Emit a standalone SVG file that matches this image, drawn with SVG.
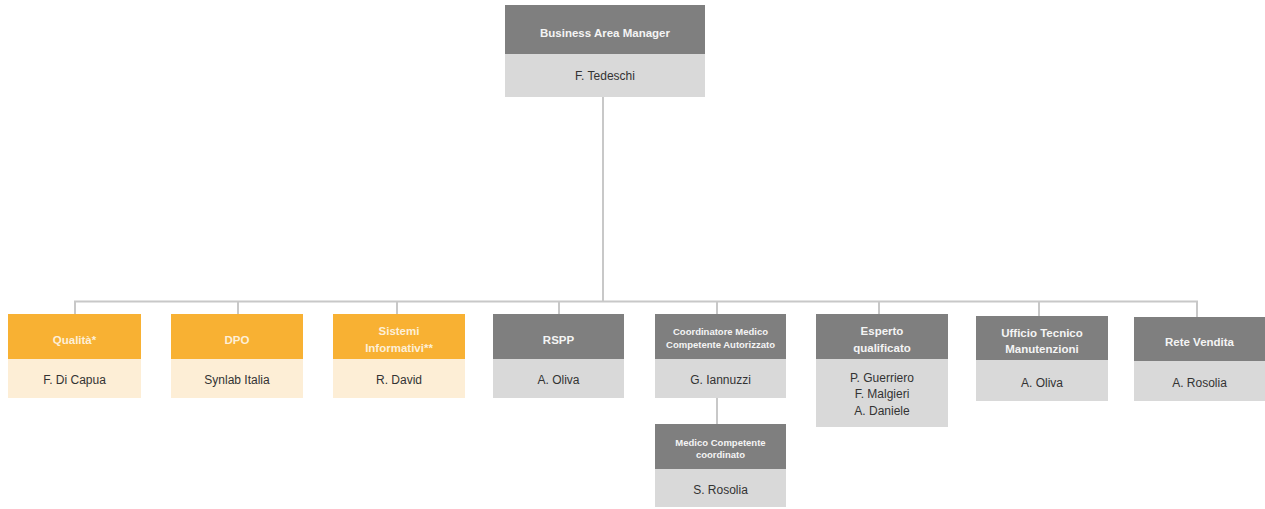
<svg xmlns="http://www.w3.org/2000/svg" width="1265" height="509" viewBox="0 0 1265 509">
  <style>
    .hd-o { fill: #F8B133; }
    .bd-o { fill: #FDEED6; }
    .hd-g { fill: #7F7F7F; }
    .bd-g { fill: #D9D9D9; }
    .title { font-family: "Liberation Sans", Arial, sans-serif; font-weight: bold; font-size: 11.5px; fill: #F4F4F4; text-anchor: middle; }
    .title-o { fill: #FDEFD8; }
    .title-s { font-size: 9.5px; }
    .name { font-family: "Liberation Sans", Arial, sans-serif; font-size: 12px; fill: #333333; text-anchor: middle; }
    .link { stroke: #C8C8C8; stroke-width: 2; fill: none; }
  </style>

  <!-- connectors -->
  <g id="connectors">
    <path class="link" d="M603 97 V301.5"/>
    <path class="link" d="M75 314 V301.5 H1197 V317"/>
    <path class="link" d="M238 301.5 V314"/>
    <path class="link" d="M397 301.5 V314"/>
    <path class="link" d="M559 301.5 V314"/>
    <path class="link" d="M717 301.5 V314"/>
    <path class="link" d="M879 301.5 V314"/>
    <path class="link" d="M1039 301.5 V316"/>
    <path class="link" d="M717 398 V424"/>
  </g>

  <!-- top manager -->
  <g id="business-area-manager">
    <rect class="hd-g" x="505" y="5" width="200" height="49"/>
    <rect class="bd-g" x="505" y="54" width="200" height="43"/>
    <text class="title" x="605" y="37">Business Area Manager</text>
    <text class="name" x="605" y="80">F. Tedeschi</text>
  </g>

  <g id="qualita">
    <rect class="hd-o" x="8" y="314" width="133" height="45"/>
    <rect class="bd-o" x="8" y="359" width="133" height="39"/>
    <text class="title title-o" x="74.5" y="343.5">Qualità*</text>
    <text class="name" x="74.5" y="384">F. Di Capua</text>
  </g>

  <g id="dpo">
    <rect class="hd-o" x="171" y="314" width="132" height="45"/>
    <rect class="bd-o" x="171" y="359" width="132" height="39"/>
    <text class="title title-o" x="237" y="343.5">DPO</text>
    <text class="name" x="237" y="384">Synlab Italia</text>
  </g>

  <g id="sistemi-informativi">
    <rect class="hd-o" x="333" y="314" width="132" height="45"/>
    <rect class="bd-o" x="333" y="359" width="132" height="39"/>
    <text class="title title-o" x="399" y="335">Sistemi</text>
    <text class="title title-o" x="399" y="351.5">Informativi**</text>
    <text class="name" x="399" y="384">R. David</text>
  </g>

  <g id="rspp">
    <rect class="hd-g" x="493" y="314" width="131" height="45"/>
    <rect class="bd-g" x="493" y="359" width="131" height="39"/>
    <text class="title" x="558.5" y="343.5">RSPP</text>
    <text class="name" x="558.5" y="384">A. Oliva</text>
  </g>

  <g id="coordinatore-medico">
    <rect class="hd-g" x="655" y="314" width="131" height="45"/>
    <rect class="bd-g" x="655" y="359" width="131" height="39"/>
    <text class="title title-s" x="720.5" y="334.5">Coordinatore Medico</text>
    <text class="title title-s" x="720.5" y="347.5">Competente Autorizzato</text>
    <text class="name" x="720.5" y="384">G. Iannuzzi</text>
  </g>

  <g id="medico-competente">
    <rect class="hd-g" x="655" y="424" width="131" height="45"/>
    <rect class="bd-g" x="655" y="469" width="131" height="38"/>
    <text class="title title-s" x="720.5" y="445.5">Medico Competente</text>
    <text class="title title-s" x="720.5" y="458">coordinato</text>
    <text class="name" x="720.5" y="494">S. Rosolia</text>
  </g>

  <g id="esperto-qualificato">
    <rect class="hd-g" x="816" y="314" width="132" height="45"/>
    <rect class="bd-g" x="816" y="359" width="132" height="68"/>
    <text class="title" x="882" y="335">Esperto</text>
    <text class="title" x="882" y="351.5">qualificato</text>
    <text class="name" x="882" y="381.5">P. Guerriero</text>
    <text class="name" x="882" y="398">F. Malgieri</text>
    <text class="name" x="882" y="414.5">A. Daniele</text>
  </g>

  <g id="ufficio-tecnico">
    <rect class="hd-g" x="976" y="316" width="132" height="44"/>
    <rect class="bd-g" x="976" y="360" width="132" height="41"/>
    <text class="title" x="1042" y="336.5">Ufficio Tecnico</text>
    <text class="title" x="1042" y="353">Manutenzioni</text>
    <text class="name" x="1042" y="386.5">A. Oliva</text>
  </g>

  <g id="rete-vendita">
    <rect class="hd-g" x="1134" y="317" width="131" height="44"/>
    <rect class="bd-g" x="1134" y="361" width="131" height="40"/>
    <text class="title" x="1199.5" y="345.5">Rete Vendita</text>
    <text class="name" x="1199.5" y="386.5">A. Rosolia</text>
  </g>
</svg>
